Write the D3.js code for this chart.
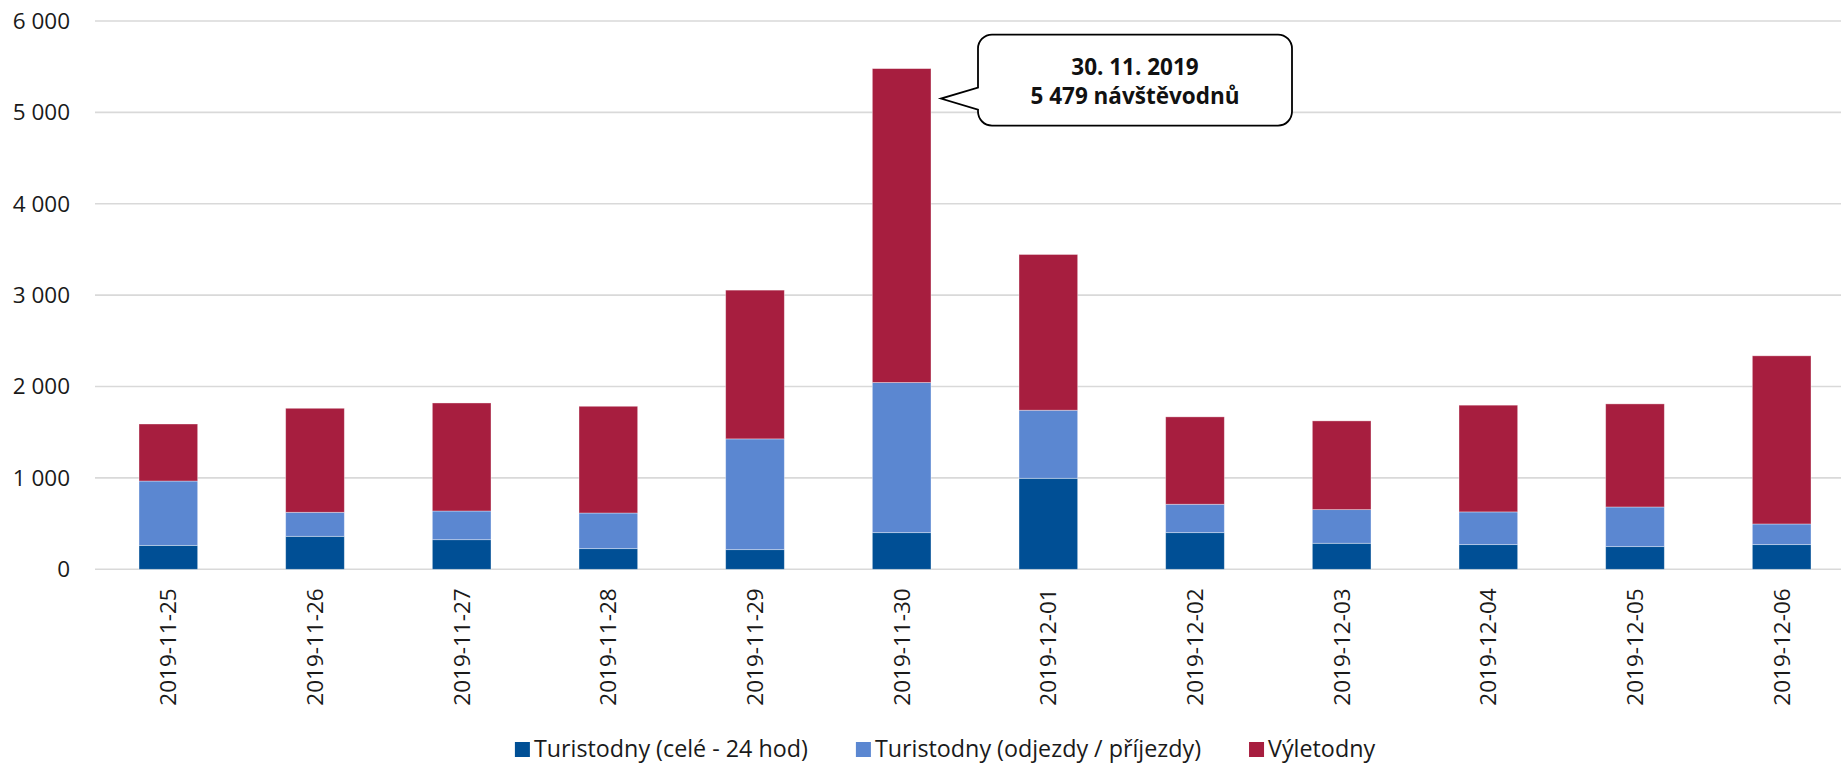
<!DOCTYPE html>
<html>
<head>
<meta charset="utf-8">
<script src="https://cdn.jsdelivr.net/npm/d3@7"></script>
<style>
  html, body { margin: 0; padding: 0; background: #fff; }
  svg { display: block; font-family: "Open Sans", "Noto Sans", sans-serif; }
</style>
</head>
<body>
<div id="chart"></div>
<script>
// data
var days = ["2019-11-25", "2019-11-26", "2019-11-27", "2019-11-28", "2019-11-29", "2019-11-30",
            "2019-12-01", "2019-12-02", "2019-12-03", "2019-12-04", "2019-12-05", "2019-12-06"];
var celeDny = [262, 361, 324, 226, 215, 401, 996, 401, 285, 270, 248, 270];
var odjezdyPrijezdy = [704, 263, 314, 390, 1212, 1643, 745, 311, 368, 358, 434, 226];
var vyletodny = [624, 1138, 1182, 1168, 1628, 3435, 1704, 956, 971, 1168, 1128, 1840];
var seriesNames = ["Turistodny (celé - 24 hod)", "Turistodny (odjezdy / příjezdy)", "Výletodny"];
var yTicks = [0, 1000, 2000, 3000, 4000, 5000, 6000];
var calloutLines = ["30. 11. 2019", "5 479 návštěvodnů"];

function init() {
  var W = 1841, H = 764;
  var left = 95, right = 1855, top = 21, bottom = 569.3;
  var colors = ["#004f95", "#5b87d1", "#a71e3f"];

  var rows = days.map(function (d, i) {
    return { day: d, a: celeDny[i], b: odjezdyPrijezdy[i], c: vyletodny[i] };
  });
  var stack = d3.stack().keys(["a", "b", "c"])(rows);

  var xScale = d3.scaleBand().domain(days).range([left, right])
    .paddingInner(0.6).paddingOuter(0.3);
  var yScale = d3.scaleLinear().domain([0, 6000]).range([bottom, top]);

  var svg = d3.select("#chart").append("svg")
    .attr("width", W).attr("height", H);

  // gridlines
  svg.append("g").selectAll("line").data(yTicks).enter().append("line")
    .attr("x1", left).attr("x2", W)
    .attr("y1", function (d) { return yScale(d); })
    .attr("y2", function (d) { return yScale(d); })
    .attr("stroke", "#d9d9d9").attr("stroke-width", 1.6);

  // y labels
  var fmt = function (d) { return d3.format(",")(d).replace(/,/g, " "); };
  svg.append("g").selectAll("text").data(yTicks).enter().append("text")
    .attr("x", 70).attr("y", function (d) { return yScale(d); })
    .attr("dy", "0.35em").attr("text-anchor", "end")
    .style("font-size", "22.5px").style("fill", "#1a1a1a")
    .text(fmt);

  // stacked bars
  svg.append("g").selectAll("g").data(stack).enter().append("g")
    .attr("fill", function (d, i) { return colors[i]; })
    .selectAll("rect").data(function (d) { return d; }).enter().append("rect")
    .attr("x", function (d) { return xScale(d.data.day); })
    .attr("width", xScale.bandwidth())
    .attr("y", function (d) { return yScale(d[1]); })
    .attr("height", function (d) { return yScale(d[0]) - yScale(d[1]); })
    .attr("stroke", "#ffffff").attr("stroke-opacity", 0.45).attr("stroke-width", 0.8);

  // x labels, rotated
  svg.append("g").selectAll("text").data(days).enter().append("text")
    .attr("transform", function (d) {
      return "translate(" + (xScale(d) + xScale.bandwidth() / 2) + "," + (bottom + 19) + ") rotate(-90)";
    })
    .attr("text-anchor", "end").attr("dy", "0.35em")
    .style("font-size", "22.5px").style("fill", "#1a1a1a")
    .text(function (d) { return d; });

  // callout for the peak day
  var peakIdx = d3.maxIndex(rows, function (r) { return r.a + r.b + r.c; });
  var peak = rows[peakIdx];
  var tipX = xScale(peak.day) + xScale.bandwidth() + 10;
  var tipY = yScale(peak.a + peak.b + peak.c) + 30;
  var bx = tipX + 37, bw = 314, by = tipY - 64, bh = 91, r = 14;
  var p = d3.path();
  p.moveTo(bx + r, by);
  p.lineTo(bx + bw - r, by);
  p.arcTo(bx + bw, by, bx + bw, by + r, r);
  p.lineTo(bx + bw, by + bh - r);
  p.arcTo(bx + bw, by + bh, bx + bw - r, by + bh, r);
  p.lineTo(bx + r, by + bh);
  p.arcTo(bx, by + bh, bx, by + bh - r, r);
  p.lineTo(bx, tipY + 11);
  p.lineTo(tipX, tipY);
  p.lineTo(bx, tipY - 11);
  p.lineTo(bx, by + r);
  p.arcTo(bx, by, bx + r, by, r);
  p.closePath();
  svg.append("path").attr("d", p.toString())
    .attr("fill", "#fff").attr("stroke", "#000").attr("stroke-width", 1.8);

  svg.append("g").selectAll("text").data(calloutLines).enter().append("text")
    .attr("x", bx + bw / 2)
    .attr("y", function (d, i) { return by + 40 + i * 29; })
    .attr("text-anchor", "middle")
    .style("font-size", "22.5px").style("font-weight", "bold").style("fill", "#111")
    .text(function (d) { return d; });

  // legend
  var legend = svg.append("g");
  var lx = 0;
  seriesNames.forEach(function (name, i) {
    var g = legend.append("g").attr("transform", "translate(" + lx + ",0)");
    g.append("rect").attr("x", 0).attr("y", -7).attr("width", 15).attr("height", 15)
      .attr("fill", colors[i]);
    var t = g.append("text").attr("x", 19).attr("y", 0).attr("dy", "0.35em")
      .style("font-size", "23.3px").style("fill", "#1a1a1a").text(name);
    lx += 19 + t.node().getComputedTextLength() + 48;
  });
  var legendW = lx - 48;
  legend.attr("transform", "translate(" + (945 - legendW / 2) + ",749)");
}

window.onload = init;
</script>
</body>
</html>
